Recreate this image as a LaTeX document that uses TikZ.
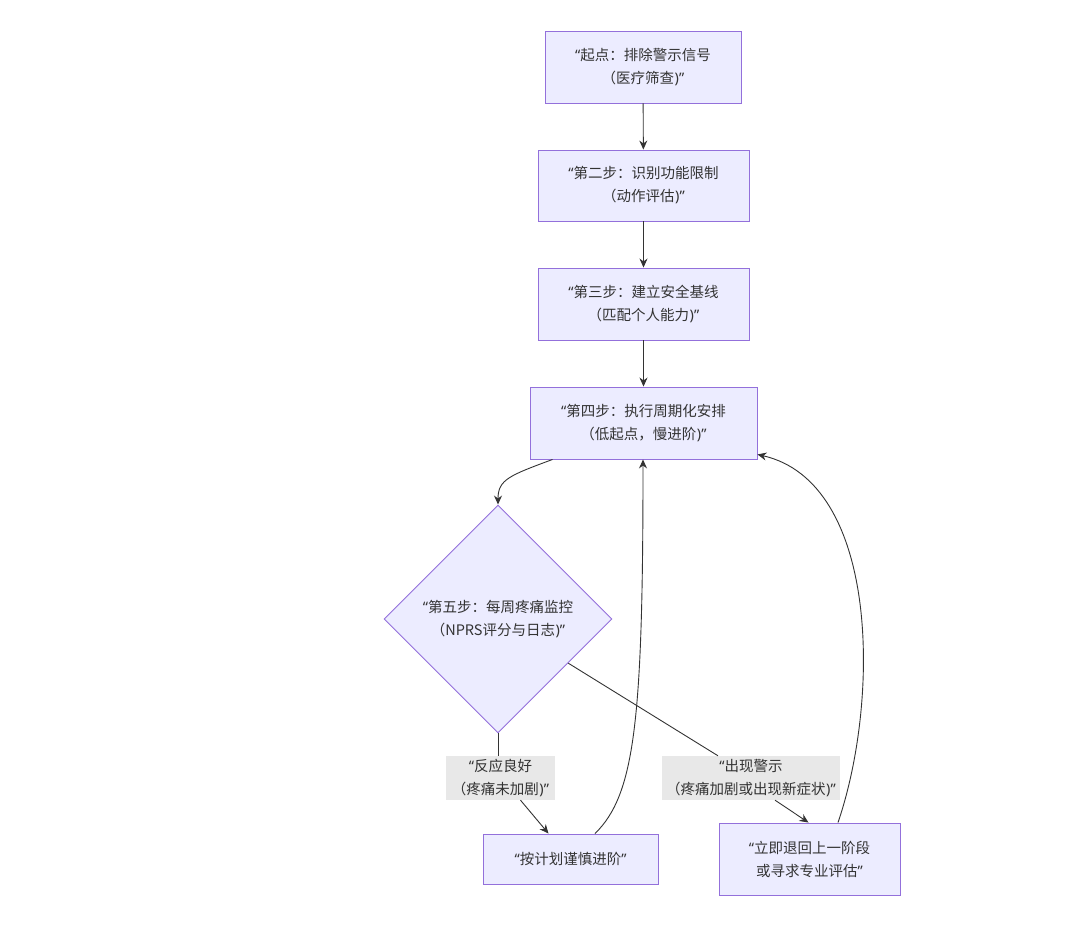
\documentclass[tikz,border=0pt]{standalone}
\usepackage{fontspec}
\setmainfont{Noto Sans CJK SC}
\newfontfamily\quotefont{Noto Sans}
\newcommand\oq{{\quotefont “}}
\newcommand\cq{{\quotefont ”}}
\newcommand\cpar{{\quotefont\kern0.5pt)}}
\usetikzlibrary{shapes.geometric,arrows.meta,calc}
\definecolor{nodefill}{HTML}{ECECFF}
\definecolor{nodeline}{HTML}{9370DB}
\definecolor{txt}{HTML}{333333}
\definecolor{lblbg}{HTML}{E8E8E8}
\begin{document}
\begin{tikzpicture}[x=1pt,y=-1pt,
  font=\fontsize{14.5}{23}\selectfont,
  stepbox/.style={draw=nodeline,fill=nodefill,line width=0.9pt,text=txt,align=center,inner sep=0pt,minimum height=72pt},
  decide/.style={diamond,draw=nodeline,fill=nodefill,line width=0.9pt,text=txt,align=center,inner sep=0pt,minimum width=228pt,minimum height=228pt},
  lbl/.style={fill=lblbg,text=txt,align=center,inner sep=0pt,minimum height=44pt},
  conn/.style={draw=txt,line width=0.9pt},
  arr/.style={conn,-{Stealth[length=9pt,width=8pt]}}
]
\useasboundingbox (0,0) rectangle (1080,925);
\node[stepbox,minimum width=196pt] (b1) at (643,67) {\oq 起点：排除警示信号\\（医疗筛查\cpar\cq};
\node[stepbox,minimum width=211pt,minimum height=71pt] (b2) at (643.5,185.5) {\oq 第二步：识别功能限制\\（动作评估\cpar\cq};
\node[stepbox,minimum width=211pt] (b3) at (643.5,304) {\oq 第三步：建立安全基线\\（匹配个人能力\cpar\cq};
\node[stepbox,minimum width=227pt] (b4) at (643.5,423) {\oq 第四步：执行周期化安排\\（低起点，慢进阶\cpar\cq};
\node[decide] (d) at (498,619) {\oq 第五步：每周疼痛监控\\（NPRS评分与日志\cpar\cq};
\node[lbl,minimum width=109pt] (l1) at (500.5,778) {\oq 反应良好\\（疼痛未加剧\cpar\cq};
\node[lbl,minimum width=178pt] (l2) at (751,778) {\oq 出现警示\\（疼痛加剧或出现新症状\cpar\cq};
\node[stepbox,minimum width=175pt,minimum height=50pt] (b6) at (570.5,859) {\oq 按计划谨慎进阶\cq};
\node[stepbox,minimum width=181pt] (b7) at (809.5,859) {\oq 立即退回上一阶段\\或寻求专业评估\cq};

\draw[arr] (b1) -- (b2);
\draw[arr] (b2) -- (b3);
\draw[arr] (b3) -- (b4);
\draw[arr] ([xshift=23pt]b4.south west) .. controls +(-43,16) and +(0,-25) .. (d.north);
\draw[conn] (d.south) -- ([xshift=-2.5pt]l1.north);
\draw[arr] ([xshift=20pt]l1.south) -- ([xshift=-22pt]b6.north);
\draw[conn] ($(d.east)!0.386!(d.south)$) -- ([xshift=-33pt]l2.north);
\draw[arr] ([xshift=24pt]l2.south) -- ([xshift=-1pt]b7.north);
\draw[arr] ([xshift=24.5pt]b6.north) .. controls +(40,-39) and +(0,261) .. ([xshift=-0.5pt]b4.south);
\draw[arr] ([xshift=28.5pt]b7.north) .. controls +(42,-123) and +(122,28) .. ([yshift=5pt]b4.south east);
\end{tikzpicture}
\end{document}
